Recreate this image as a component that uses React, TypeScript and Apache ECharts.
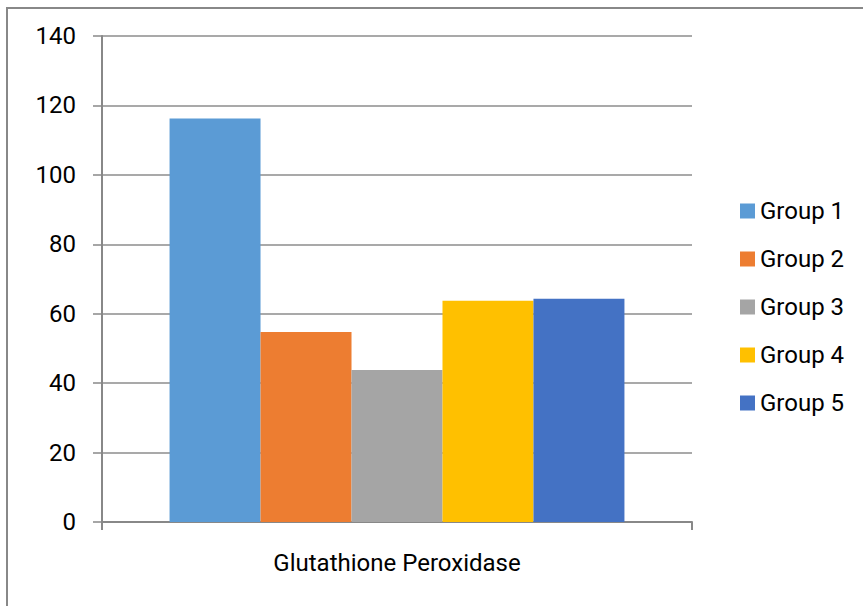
import React, { useEffect, useRef } from "react";
import * as echarts from "echarts";

const categories = ["Glutathione Peroxidase"];
const seriesNames = ["Group 1", "Group 2", "Group 3", "Group 4", "Group 5"];
const seriesValues = [116.2, 54.7, 43.8, 63.7, 64.3];
const seriesColors = ["#5B9BD5", "#ED7D31", "#A5A5A5", "#FFC000", "#4472C4"];
const yTicks = { min: 0, max: 140, interval: 20 };

const FONT = "Roboto, 'Liberation Sans', sans-serif";

export default function App() {
  const ref = useRef<HTMLDivElement>(null);
  useEffect(() => {
    if (!ref.current) return;
    const chart = echarts.init(ref.current, null, { renderer: "svg" });
    chart.setOption({
      animation: false,
      backgroundColor: "#ffffff",
      grid: { left: 102, right: 171, top: 36, bottom: 84, containLabel: false },
      graphic: [
        {
          type: "rect",
          shape: { x: 7, y: 8, width: 1000, height: 800 },
          style: { fill: "none", stroke: "#888888", lineWidth: 2 },
          silent: true,
        },
      ],
      legend: {
        orient: "vertical",
        left: 735,
        top: 193,
        itemWidth: 15,
        itemHeight: 15,
        itemGap: 22,
        icon: "rect",
        data: seriesNames,
        textStyle: { fontFamily: FONT, fontSize: 24, color: "#000", lineHeight: 26 },
      },
      xAxis: {
        type: "category",
        data: categories,
        axisLine: { lineStyle: { color: "#888888", width: 2 } },
        axisTick: { show: true, length: 8, lineStyle: { color: "#888888", width: 2 } },
        axisLabel: { fontFamily: FONT, fontSize: 24, color: "#000", margin: 29 },
      },
      yAxis: {
        type: "value",
        min: yTicks.min,
        max: yTicks.max,
        interval: yTicks.interval,
        axisLine: { show: true, lineStyle: { color: "#888888", width: 2 } },
        axisTick: { show: true, length: 9, lineStyle: { color: "#888888", width: 1.5 } },
        splitLine: { show: true, lineStyle: { color: "#8c8c8c", width: 1.5 } },
        axisLabel: { fontFamily: FONT, fontSize: 24, color: "#000", margin: 26 },
      },
      series: seriesNames.map((name, i) => ({
        name,
        type: "bar",
        data: [seriesValues[i]],
        itemStyle: { color: seriesColors[i] },
        barGap: "0%",
        barCategoryGap: "22.9%",
      })),
    });
    return () => chart.dispose();
  }, []);
  return <div ref={ref} style={{ position: "absolute", left: 0, top: 0, width: 863, height: 606 }} />;
}
